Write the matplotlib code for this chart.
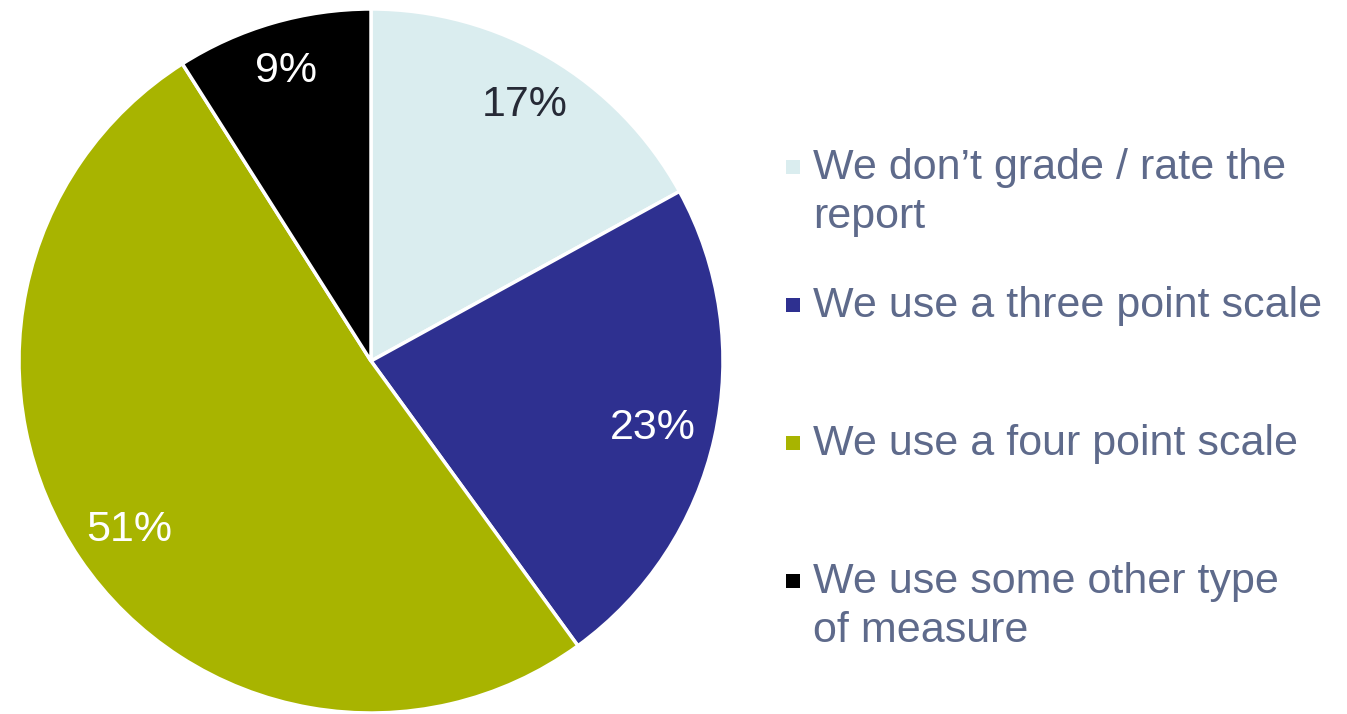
import numpy as np
import matplotlib.pyplot as plt
from matplotlib.patches import Rectangle

plt.rcParams['font.family'] = ['Liberation Sans', 'DejaVu Sans']

categories = ["We don\u2019t grade / rate the\nreport",
              "We use a three point scale",
              "We use a four point scale",
              "We use some other type\nof measure"]
shares = [17, 23, 51, 9]
colors = ['#DAEDEF', '#2E3090', '#A8B400', '#000000']
label_colors = ['#262A36', 'white', 'white', 'white']

W, H = 1347, 714
fig = plt.figure(figsize=(W / 100, H / 100), dpi=100)

# pie occupies the left part, centre ~ (371, 361) px, radius ~352 px
ax = fig.add_axes([19 / W, 1 / H, 704 / W, 704 / H])
wedges, texts = ax.pie(shares, colors=colors, startangle=90, counterclock=False,
                       labels=[f'{v}%' for v in shares], labeldistance=0.85,
                       radius=1, wedgeprops=dict(edgecolor='white', linewidth=2.5))

# percentage labels sit at slightly different depths inside each slice
label_r = [0.86, 0.82, 0.83, 0.87]
for w, t, c, r in zip(wedges, texts, label_colors, label_r):
    mid = np.deg2rad((w.theta1 + w.theta2) / 2)
    t.set_position((r * np.cos(mid), r * np.sin(mid)))
    t.set_color(c)
    t.set_fontsize(31)
    t.set_horizontalalignment('center')
    t.set_verticalalignment('center_baseline')
ax.set_xlim(-1, 1)
ax.set_ylim(-1, 1)
ax.set_aspect('equal')
ax.axis('off')

# legend, drawn by hand so every entry gets the same slot height
first_baseline = 179
step = 138
line_gap = 49
for i, (name, col) in enumerate(zip(categories, colors)):
    base = first_baseline + i * step
    for j, line in enumerate(name.split('\n')):
        fig.text(813 / W, 1 - (base + j * line_gap) / H, line, fontsize=31,
                 color='#5E6A8B', ha='left', va='baseline')
    sq = 14
    fig.add_artist(Rectangle(((793 - sq / 2) / W, 1 - (base - 12 + sq / 2) / H),
                             sq / W, sq / H, transform=fig.transFigure,
                             facecolor=col, edgecolor='none'))

fig.savefig('out.png', dpi=100)
